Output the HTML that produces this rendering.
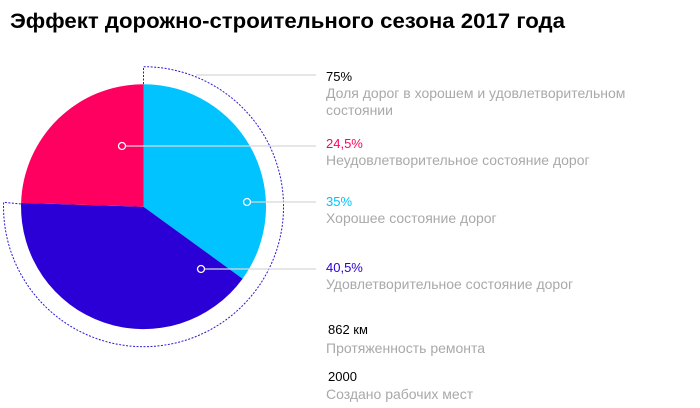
<!DOCTYPE html>
<html><head><meta charset="utf-8"><style>
html,body{margin:0;padding:0;background:#fff;width:700px;height:408px;overflow:hidden}
svg{display:block;font-family:"Liberation Sans",sans-serif}
.v{font-size:13px}.l{font-size:14px;fill:#a9a9a9}
</style></head><body>
<svg width="700" height="408" viewBox="0 0 700 408">
<text x="10" y="28" font-size="21" font-weight="bold" fill="#000" textLength="555" lengthAdjust="spacingAndGlyphs">Эффект дорожно-строительного сезона 2017 года</text>
<path d="M143.5,206.7 L143.5,84.2 A122.5,122.5 0 0 1 242.6,278.7 Z" fill="#00c3ff"/>
<path d="M143.5,206.7 L242.6,278.7 A122.5,122.5 0 0 1 21.1,202.9 Z" fill="#2a00d6"/>
<path d="M143.5,206.7 L21.1,202.9 A122.5,122.5 0 0 1 143.5,84.2 Z" fill="#ff0060"/>
<g fill="none" stroke="#2a1ad6" stroke-width="1" stroke-dasharray="2,1.5">
<path d="M143.5,84 L143.5,66.7 A140,140 0 1 1 3.6,202.3 L21,204"/>
</g>
<g stroke="#d8d8d8" stroke-width="1.2">
<line x1="196" y1="75" x2="316" y2="75"/>
<line x1="126" y1="146" x2="316" y2="146"/>
<line x1="251" y1="202" x2="316" y2="202"/>
<line x1="205" y1="269" x2="316" y2="269"/>
</g>
<g fill="none" stroke="#fff" stroke-width="1.3">
<circle cx="122" cy="146" r="3.5"/><circle cx="247" cy="202" r="3.5"/><circle cx="201" cy="269" r="3.5"/>
</g>
<text class="v" x="326" y="81" fill="#000">75%</text>
<text class="l" x="326" y="98">Доля дорог в хорошем и удовлетворительном</text>
<text class="l" x="326" y="115">состоянии</text>
<text class="v" x="326" y="148" fill="#ff0060">24,5%</text>
<text class="l" x="326" y="165">Неудовлетворительное состояние дорог</text>
<text class="v" x="326" y="206" fill="#00c3ff">35%</text>
<text class="l" x="326" y="223">Хорошее состояние дорог</text>
<text class="v" x="326" y="272" fill="#2a00d6">40,5%</text>
<text class="l" x="326" y="289">Удовлетворительное состояние дорог</text>
<text class="v" x="328" y="334" fill="#000">862 км</text>
<text class="l" x="326" y="353">Протяженность ремонта</text>
<text class="v" x="328" y="381" fill="#000">2000</text>
<text class="l" x="326" y="399">Создано рабочих мест</text>
</svg>
</body></html>
